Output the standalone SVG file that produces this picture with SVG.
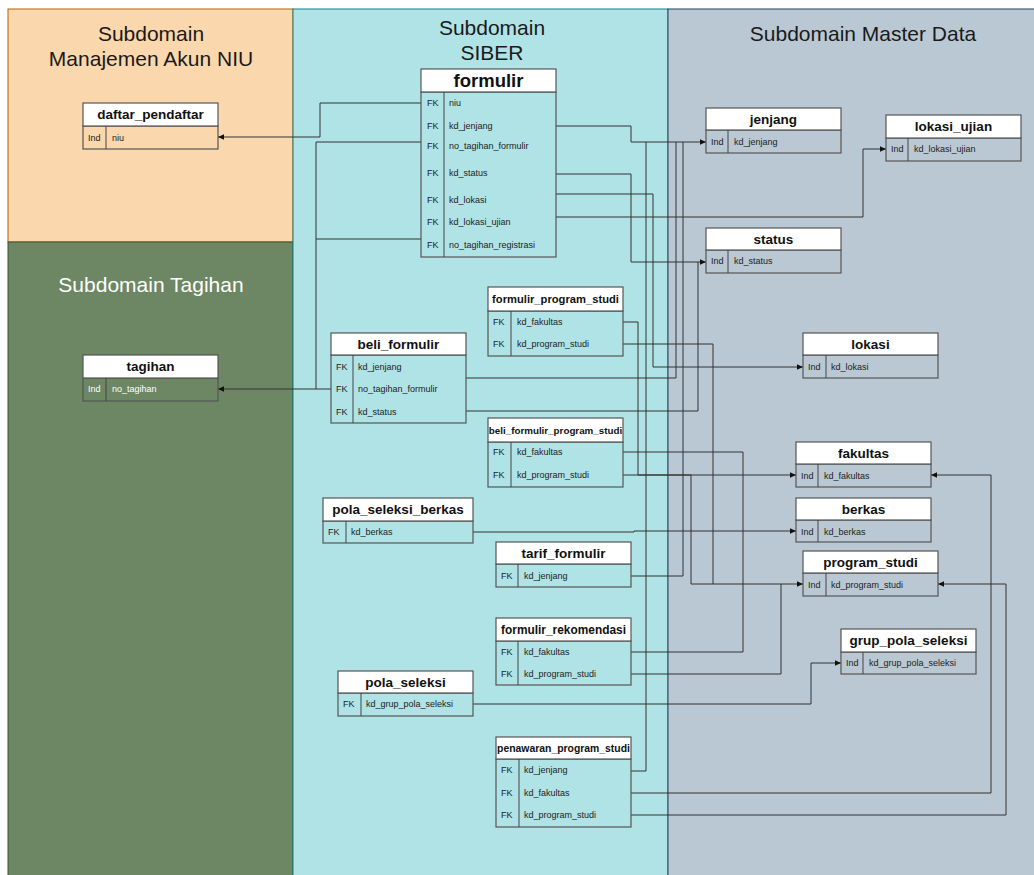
<svg xmlns="http://www.w3.org/2000/svg" width="1034" height="875" viewBox="0 0 1034 875">
  <defs>
    <marker id="arr" markerUnits="userSpaceOnUse" markerWidth="7" markerHeight="7" refX="6" refY="3.5" orient="auto">
      <path d="M0,0.8 L6,3.5 L0,6.2 z" fill="#111"/>
    </marker>
    <style>
      .zone-title { font-family: "Liberation Sans", Arial, sans-serif; font-size: 21px; text-anchor: middle; fill: #1a1a1a; }
      .hdr { fill: #ffffff; stroke: #555555; stroke-width: 1.2; }
      .bdy { fill: none; stroke: #555555; stroke-width: 1.2; }
      .div { stroke: #444444; stroke-width: 1; }
      .tt { font-family: "Liberation Sans", Arial, sans-serif; font-weight: bold; font-size: 13.5px; text-anchor: middle; fill: #111; }
      .rt { font-family: "Liberation Sans", Arial, sans-serif; font-size: 9px; fill: #222; }
      .light .rt { fill: #ffffff; }
      .conn path { fill: none; stroke: #333333; stroke-width: 1; }
      .conn .end { marker-end: url(#arr); }
    </style>
  </defs>

  <!-- subdomain zones -->
  <g id="zones">
    <rect x="8" y="9" width="285" height="233" fill="#fad7ac" stroke="#b46504" stroke-width="1"/>
    <rect x="8" y="242" width="285" height="640" fill="#6d8764" stroke="#3a5431" stroke-width="1"/>
    <rect x="293" y="9" width="375" height="873" fill="#b0e3e6" stroke="#0e8088" stroke-width="1"/>
    <rect x="668" y="9" width="372" height="873" fill="#bac8d3" stroke="#23445d" stroke-width="1"/>
    <text class="zone-title" x="151" y="41">Subdomain</text>
    <text class="zone-title" x="151" y="66">Manajemen Akun NIU</text>
    <text class="zone-title" x="151" y="292" style="fill:#ffffff">Subdomain Tagihan</text>
    <text class="zone-title" x="492" y="35">Subdomain</text>
    <text class="zone-title" x="492" y="60">SIBER</text>
    <text class="zone-title" x="863" y="41">Subdomain Master Data</text>
  </g>

  <!-- relationships -->
  <g id="connectors" class="conn">
    <path class="end" d="M421,103 H320 V137 H218"/>
    <path class="end" d="M421,142 H316 V389 H218"/>
    <path d="M421,239 H316"/>
    <path d="M331,389 H316"/>
    <path class="end" d="M556,126 H631 V142 H706"/>
    <path d="M466,378 H676 V142"/>
    <path d="M631,576 H683 V142"/>
    <path d="M631,771 H646 V142"/>
    <path class="end" d="M556,174 H631 V262 H706"/>
    <path d="M466,411 H698 V262"/>
    <path class="end" d="M556,194 H653 V367 H803"/>
    <path class="end" d="M556,217 H863 V149 H886"/>
    <path class="end" d="M623,322 H638 V475 H796"/>
    <path d="M623,452 H743 V652 H631"/>
    <path class="end" d="M623,475 H691 V584 H803"/>
    <path d="M623,344 H713 V584"/>
    <path d="M631,674 H781 V584"/>
    <path class="end" d="M631,793 H991 V475 H931"/>
    <path class="end" d="M631,815 H1006 V584 H938"/>
    <path class="end" d="M473,532 H634 V531 H796"/>
    <path class="end" d="M473,704 H811 V663 H841"/>
  </g>

  <g id="daftar_pendaftar">
    <rect class="bdy" x="83" y="126" width="135" height="23"/>
    <rect class="hdr" x="83" y="103" width="135" height="23"/>
    <line class="div" x1="106" y1="126" x2="106" y2="149"/>
    <text class="tt" x="150.5" y="119">daftar_pendaftar</text>
    <text class="rt" x="88" y="140.5">Ind</text>
    <text class="rt" x="112" y="140.5">niu</text>
  </g>

  <g id="tagihan" class="light">
    <rect class="bdy" x="83" y="378" width="135" height="23"/>
    <rect class="hdr" x="83" y="355" width="135" height="23"/>
    <line class="div" x1="106" y1="378" x2="106" y2="401"/>
    <text class="tt" x="150.5" y="371">tagihan</text>
    <text class="rt" x="88" y="392">Ind</text>
    <text class="rt" x="112" y="392">no_tagihan</text>
  </g>

  <g id="formulir">
    <rect class="bdy" x="421" y="92" width="135" height="165"/>
    <rect class="hdr" x="421" y="69" width="135" height="23"/>
    <line class="div" x1="444" y1="92" x2="444" y2="257"/>
    <text class="tt" x="488.5" y="87" style="font-size:18.5px">formulir</text>
    <text class="rt" x="427" y="106">FK</text><text class="rt" x="449" y="106">niu</text>
    <text class="rt" x="427" y="129">FK</text><text class="rt" x="449" y="129">kd_jenjang</text>
    <text class="rt" x="427" y="149">FK</text><text class="rt" x="449" y="149">no_tagihan_formulir</text>
    <text class="rt" x="427" y="176">FK</text><text class="rt" x="449" y="176">kd_status</text>
    <text class="rt" x="427" y="203">FK</text><text class="rt" x="449" y="203">kd_lokasi</text>
    <text class="rt" x="427" y="225">FK</text><text class="rt" x="449" y="225">kd_lokasi_ujian</text>
    <text class="rt" x="427" y="248">FK</text><text class="rt" x="449" y="248">no_tagihan_registrasi</text>
  </g>

  <g id="beli_formulir">
    <rect class="bdy" x="331" y="355" width="135" height="68"/>
    <rect class="hdr" x="331" y="333" width="135" height="22"/>
    <line class="div" x1="353" y1="355" x2="353" y2="423"/>
    <text class="tt" x="398.5" y="349">beli_formulir</text>
    <text class="rt" x="336" y="370">FK</text><text class="rt" x="358" y="370">kd_jenjang</text>
    <text class="rt" x="336" y="392">FK</text><text class="rt" x="358" y="392">no_tagihan_formulir</text>
    <text class="rt" x="336" y="415">FK</text><text class="rt" x="358" y="415">kd_status</text>
  </g>

  <g id="formulir_program_studi">
    <rect class="bdy" x="488" y="311" width="135" height="45"/>
    <rect class="hdr" x="488" y="287" width="135" height="24"/>
    <line class="div" x1="511" y1="311" x2="511" y2="356"/>
    <text class="tt" x="555.5" y="303" style="font-size:11.2px">formulir_program_studi</text>
    <text class="rt" x="493" y="325">FK</text><text class="rt" x="517" y="325">kd_fakultas</text>
    <text class="rt" x="493" y="347">FK</text><text class="rt" x="517" y="347">kd_program_studi</text>
  </g>

  <g id="beli_formulir_program_studi">
    <rect class="bdy" x="488" y="442" width="135" height="45"/>
    <rect class="hdr" x="488" y="418" width="135" height="24"/>
    <line class="div" x1="511" y1="442" x2="511" y2="487"/>
    <text class="tt" x="555.5" y="434" style="font-size:9.8px">beli_formulir_program_studi</text>
    <text class="rt" x="493" y="455">FK</text><text class="rt" x="517" y="455">kd_fakultas</text>
    <text class="rt" x="493" y="478">FK</text><text class="rt" x="517" y="478">kd_program_studi</text>
  </g>

  <g id="pola_seleksi_berkas">
    <rect class="bdy" x="323" y="521" width="150" height="22"/>
    <rect class="hdr" x="323" y="498" width="150" height="23"/>
    <line class="div" x1="346" y1="521" x2="346" y2="543"/>
    <text class="tt" x="398" y="514">pola_seleksi_berkas</text>
    <text class="rt" x="328" y="535">FK</text><text class="rt" x="351" y="535">kd_berkas</text>
  </g>

  <g id="tarif_formulir">
    <rect class="bdy" x="496" y="564" width="135" height="23"/>
    <rect class="hdr" x="496" y="542" width="135" height="22"/>
    <line class="div" x1="518" y1="564" x2="518" y2="587"/>
    <text class="tt" x="563.5" y="558">tarif_formulir</text>
    <text class="rt" x="501" y="579">FK</text><text class="rt" x="524" y="579">kd_jenjang</text>
  </g>

  <g id="formulir_rekomendasi">
    <rect class="bdy" x="496" y="641" width="135" height="44"/>
    <rect class="hdr" x="496" y="618" width="135" height="23"/>
    <line class="div" x1="518" y1="641" x2="518" y2="685"/>
    <text class="tt" x="563.5" y="634" style="font-size:11.9px">formulir_rekomendasi</text>
    <text class="rt" x="501" y="655">FK</text><text class="rt" x="524" y="655">kd_fakultas</text>
    <text class="rt" x="501" y="677">FK</text><text class="rt" x="524" y="677">kd_program_studi</text>
  </g>

  <g id="pola_seleksi">
    <rect class="bdy" x="338" y="693" width="135" height="23"/>
    <rect class="hdr" x="338" y="671" width="135" height="22"/>
    <line class="div" x1="361" y1="693" x2="361" y2="716"/>
    <text class="tt" x="405.5" y="687">pola_seleksi</text>
    <text class="rt" x="343" y="707">FK</text><text class="rt" x="366" y="707">kd_grup_pola_seleksi</text>
  </g>

  <g id="penawaran_program_studi">
    <rect class="bdy" x="496" y="759" width="135" height="68"/>
    <rect class="hdr" x="496" y="737" width="135" height="22"/>
    <line class="div" x1="519" y1="759" x2="519" y2="827"/>
    <text class="tt" x="563.5" y="752" style="font-size:10.4px">penawaran_program_studi</text>
    <text class="rt" x="501" y="773">FK</text><text class="rt" x="524" y="773">kd_jenjang</text>
    <text class="rt" x="501" y="796">FK</text><text class="rt" x="524" y="796">kd_fakultas</text>
    <text class="rt" x="501" y="818">FK</text><text class="rt" x="524" y="818">kd_program_studi</text>
  </g>

  <g id="jenjang">
    <rect class="bdy" x="706" y="130" width="135" height="23"/>
    <rect class="hdr" x="706" y="108" width="135" height="22"/>
    <line class="div" x1="728" y1="130" x2="728" y2="153"/>
    <text class="tt" x="773.5" y="124">jenjang</text>
    <text class="rt" x="711" y="145">Ind</text><text class="rt" x="734" y="145">kd_jenjang</text>
  </g>

  <g id="lokasi_ujian">
    <rect class="bdy" x="886" y="138" width="135" height="23"/>
    <rect class="hdr" x="886" y="115" width="135" height="23"/>
    <line class="div" x1="908" y1="138" x2="908" y2="161"/>
    <text class="tt" x="953.5" y="131">lokasi_ujian</text>
    <text class="rt" x="891" y="152">Ind</text><text class="rt" x="914" y="152">kd_lokasi_ujian</text>
  </g>

  <g id="status">
    <rect class="bdy" x="706" y="250" width="135" height="23"/>
    <rect class="hdr" x="706" y="228" width="135" height="22"/>
    <line class="div" x1="728" y1="250" x2="728" y2="273"/>
    <text class="tt" x="773.5" y="244">status</text>
    <text class="rt" x="711" y="264">Ind</text><text class="rt" x="734" y="264">kd_status</text>
  </g>

  <g id="lokasi">
    <rect class="bdy" x="803" y="355" width="135" height="23"/>
    <rect class="hdr" x="803" y="333" width="135" height="22"/>
    <line class="div" x1="826" y1="355" x2="826" y2="378"/>
    <text class="tt" x="870.5" y="349">lokasi</text>
    <text class="rt" x="808" y="369.5">Ind</text><text class="rt" x="831" y="369.5">kd_lokasi</text>
  </g>

  <g id="fakultas">
    <rect class="bdy" x="796" y="464" width="135" height="23"/>
    <rect class="hdr" x="796" y="442" width="135" height="22"/>
    <line class="div" x1="818" y1="464" x2="818" y2="487"/>
    <text class="tt" x="863.5" y="458">fakultas</text>
    <text class="rt" x="801" y="478.5">Ind</text><text class="rt" x="824" y="478.5">kd_fakultas</text>
  </g>

  <g id="berkas">
    <rect class="bdy" x="796" y="520" width="135" height="22"/>
    <rect class="hdr" x="796" y="498" width="135" height="22"/>
    <line class="div" x1="818" y1="520" x2="818" y2="542"/>
    <text class="tt" x="863.5" y="514">berkas</text>
    <text class="rt" x="801" y="534.5">Ind</text><text class="rt" x="824" y="534.5">kd_berkas</text>
  </g>

  <g id="program_studi">
    <rect class="bdy" x="803" y="573" width="135" height="23"/>
    <rect class="hdr" x="803" y="551" width="135" height="22"/>
    <line class="div" x1="826" y1="573" x2="826" y2="596"/>
    <text class="tt" x="870.5" y="567">program_studi</text>
    <text class="rt" x="808" y="587.5">Ind</text><text class="rt" x="831" y="587.5">kd_program_studi</text>
  </g>

  <g id="grup_pola_seleksi">
    <rect class="bdy" x="841" y="652" width="135" height="22"/>
    <rect class="hdr" x="841" y="629" width="135" height="23"/>
    <line class="div" x1="863" y1="652" x2="863" y2="674"/>
    <text class="tt" x="908.5" y="645">grup_pola_seleksi</text>
    <text class="rt" x="846" y="666">Ind</text><text class="rt" x="869" y="666">kd_grup_pola_seleksi</text>
  </g>
</svg>
